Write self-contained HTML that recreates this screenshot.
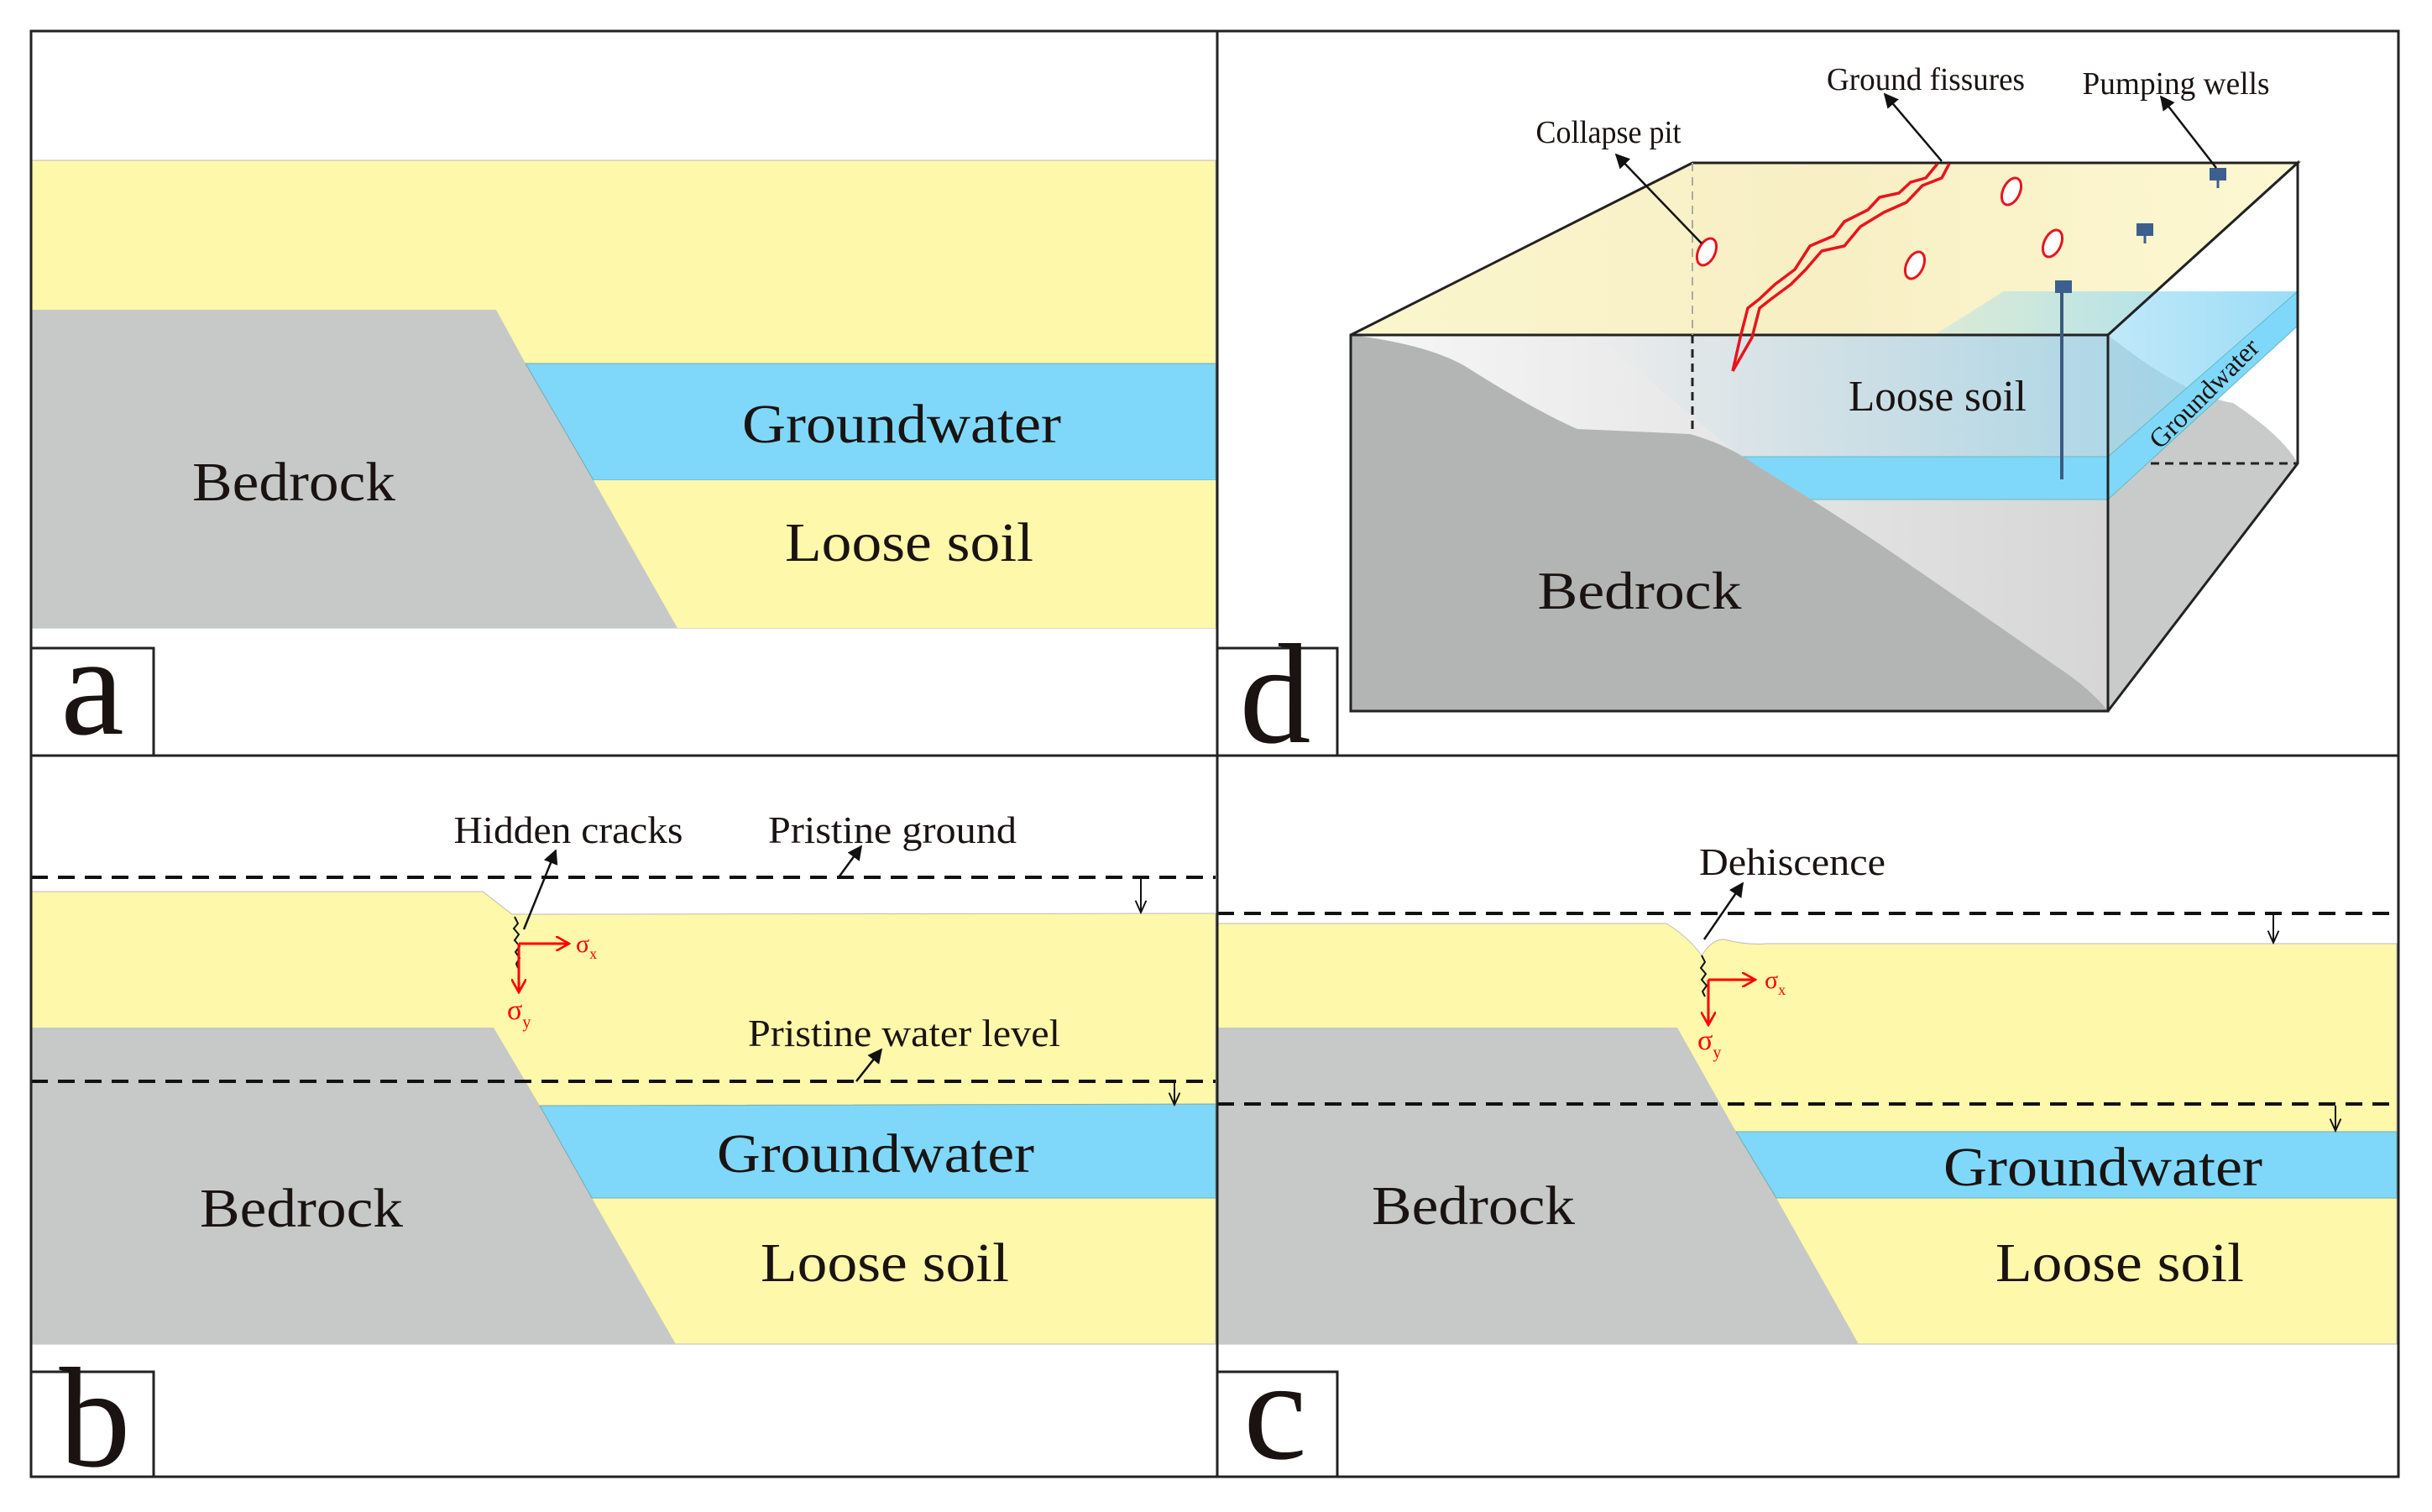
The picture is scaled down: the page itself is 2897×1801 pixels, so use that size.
<!DOCTYPE html>
<html><head><meta charset="utf-8"><style>html,body{margin:0;padding:0;background:#fff}svg{display:block}text{font-family:"Liberation Serif",serif;fill:#1a1311}</style></head>
<body>
<svg width="2897" height="1801" viewBox="0 0 2897 1801" xmlns="http://www.w3.org/2000/svg">
<defs>
<marker id="ah" viewBox="0 0 10 10" refX="9" refY="5" markerWidth="7" markerHeight="7" orient="auto-start-reverse"><path d="M0,0 L10,5 L0,10 z" fill="#111"/></marker>
<marker id="ahs" viewBox="0 0 10 10" refX="9" refY="5" markerWidth="8" markerHeight="8" orient="auto"><path d="M0,1 L9,5 L0,9" fill="none" stroke="#111" stroke-width="1.2"/></marker>
<marker id="ahr" viewBox="0 0 10 10" refX="9" refY="5" markerWidth="6" markerHeight="6" orient="auto"><path d="M0,0 L9,5 L0,10" fill="none" stroke="#f00" stroke-width="1.5"/></marker>
<linearGradient id="front" x1="0" y1="0" x2="1" y2="0"><stop offset="0" stop-color="#f7f7f7"/><stop offset="1" stop-color="#d6d6d6"/></linearGradient>
<linearGradient id="wt" x1="0" y1="0" x2="1" y2="0"><stop offset="0" stop-color="#9fdcf0" stop-opacity="0"/><stop offset="1" stop-color="#8fd8f6" stop-opacity="0.9"/></linearGradient>
<linearGradient id="topg" x1="0" y1="0" x2="1" y2="0"><stop offset="0" stop-color="#fbf6cd"/><stop offset="0.5" stop-color="#f8efc4"/><stop offset="1" stop-color="#fdf8d2"/></linearGradient>
</defs>

<!-- PANEL A -->
<rect x="37" y="191" width="1411" height="557" fill="#fef8aa" stroke="#bbb" stroke-width="1"/>
<polygon points="37,369 591,369 626,433 1448,433 1448,572 707,572 807,748 37,748" fill="#c6c9c8"/>
<polygon points="626,433 1448,433 1448,572 707,572" fill="#7fd8f9" stroke="#7aa" stroke-width="1"/>
<polygon points="707,572 1448,572 1448,748 807,748" fill="#fef8aa"/>
<text x="350" y="596" font-size="66" text-anchor="middle" textLength="242" lengthAdjust="spacingAndGlyphs">Bedrock</text>
<text x="1074" y="527" font-size="66" text-anchor="middle" textLength="380" lengthAdjust="spacingAndGlyphs">Groundwater</text>
<text x="1083" y="668" font-size="66" text-anchor="middle" textLength="296" lengthAdjust="spacingAndGlyphs">Loose soil</text>

<!-- PANEL B -->
<polygon points="37,1062 575,1062 610,1089 1448,1088 1448,1601 37,1601" fill="#fef8aa" stroke="#bbb" stroke-width="1"/>
<polygon points="37,1224 588,1224 643,1317 705,1427 805,1601 37,1601" fill="#c6c9c8"/>
<polygon points="643,1317 1448,1315 1448,1427 705,1427" fill="#7fd8f9" stroke="#7aa" stroke-width="1"/>
<line x1="37" y1="1045" x2="1448" y2="1045" stroke="#111" stroke-width="4" stroke-dasharray="20,12"/>
<line x1="37" y1="1288" x2="1448" y2="1288" stroke="#111" stroke-width="4" stroke-dasharray="20,12"/>
<text x="677" y="1004" font-size="46" text-anchor="middle" textLength="273" lengthAdjust="spacingAndGlyphs">Hidden cracks</text>
<text x="1063" y="1004" font-size="46" text-anchor="middle" textLength="296" lengthAdjust="spacingAndGlyphs">Pristine ground</text>
<text x="1077" y="1246" font-size="46" text-anchor="middle" textLength="372" lengthAdjust="spacingAndGlyphs">Pristine water level</text>
<line x1="624" y1="1107" x2="662" y2="1013" stroke="#111" stroke-width="2.5" marker-end="url(#ah)"/>
<line x1="999" y1="1045" x2="1026" y2="1008" stroke="#111" stroke-width="2.5" marker-end="url(#ah)"/>
<line x1="1020" y1="1288" x2="1050" y2="1250" stroke="#111" stroke-width="2.5" marker-end="url(#ah)"/>
<line x1="1359" y1="1047" x2="1359" y2="1087" stroke="#111" stroke-width="2" marker-end="url(#ahs)"/>
<line x1="1399" y1="1290" x2="1399" y2="1316" stroke="#111" stroke-width="2" marker-end="url(#ahs)"/>
<polyline points="613,1092 617,1100 612,1106 618,1113 613,1120 619,1127 614,1134 619,1141 615,1148 617,1153" fill="none" stroke="#111" stroke-width="2"/>
<line x1="618" y1="1124" x2="678" y2="1124" stroke="#f00" stroke-width="3" marker-end="url(#ahr)"/>
<line x1="618" y1="1124" x2="618" y2="1182" stroke="#f00" stroke-width="3" marker-end="url(#ahr)"/>
<text x="686" y="1134" font-size="30" style="fill:#f00">σ<tspan font-size="18" dy="8">x</tspan></text>
<text x="604" y="1214" font-size="34" style="fill:#f00">σ<tspan font-size="20" dy="10">y</tspan></text>
<text x="359" y="1461" font-size="66" text-anchor="middle" textLength="242" lengthAdjust="spacingAndGlyphs">Bedrock</text>
<text x="1043" y="1396" font-size="66" text-anchor="middle" textLength="378" lengthAdjust="spacingAndGlyphs">Groundwater</text>
<text x="1054" y="1526" font-size="66" text-anchor="middle" textLength="296" lengthAdjust="spacingAndGlyphs">Loose soil</text>

<!-- PANEL C -->
<path d="M1450,1100 L1985,1100 Q2010,1115 2027,1138 Q2040,1118 2054,1119 Q2080,1126 2105,1124 L2855,1124 L2855,1601 L1450,1601 Z" fill="#fef8aa" stroke="#bbb" stroke-width="1"/>
<polygon points="1450,1224 1998,1224 2068,1348 2116,1427 2214,1601 1450,1601" fill="#c6c9c8"/>
<polygon points="2068,1348 2855,1348 2855,1427 2116,1427" fill="#7fd8f9" stroke="#7aa" stroke-width="1"/>
<line x1="1450" y1="1088" x2="2855" y2="1088" stroke="#111" stroke-width="4" stroke-dasharray="20,12"/>
<line x1="1450" y1="1315" x2="2855" y2="1315" stroke="#111" stroke-width="4" stroke-dasharray="20,12"/>
<text x="2135" y="1042" font-size="46" text-anchor="middle" textLength="222" lengthAdjust="spacingAndGlyphs">Dehiscence</text>
<line x1="2030" y1="1119" x2="2076" y2="1052" stroke="#111" stroke-width="2.5" marker-end="url(#ah)"/>
<line x1="2708" y1="1090" x2="2708" y2="1123" stroke="#111" stroke-width="2" marker-end="url(#ahs)"/>
<line x1="2782" y1="1317" x2="2782" y2="1347" stroke="#111" stroke-width="2" marker-end="url(#ahs)"/>
<polyline points="2027,1138 2031,1146 2026,1153 2032,1160 2027,1167 2033,1174 2028,1181 2031,1187" fill="none" stroke="#111" stroke-width="2"/>
<line x1="2035" y1="1167" x2="2091" y2="1167" stroke="#f00" stroke-width="3" marker-end="url(#ahr)"/>
<line x1="2035" y1="1167" x2="2035" y2="1221" stroke="#f00" stroke-width="3" marker-end="url(#ahr)"/>
<text x="2102" y="1177" font-size="30" style="fill:#f00">σ<tspan font-size="18" dy="8">x</tspan></text>
<text x="2022" y="1250" font-size="34" style="fill:#f00">σ<tspan font-size="20" dy="10">y</tspan></text>
<text x="1755" y="1458" font-size="66" text-anchor="middle" textLength="242" lengthAdjust="spacingAndGlyphs">Bedrock</text>
<text x="2505" y="1412" font-size="66" text-anchor="middle" textLength="380" lengthAdjust="spacingAndGlyphs">Groundwater</text>
<text x="2525" y="1526" font-size="66" text-anchor="middle" textLength="296" lengthAdjust="spacingAndGlyphs">Loose soil</text>

<!-- PANEL D -->
<polygon points="1609,399 2016,194 2737,194 2511,399" fill="url(#topg)" stroke="#222" stroke-width="3"/>
<polygon points="2511,399 2737,194 2737,552 2511,847" fill="#fff"/>
<path d="M2511,399 Q2600,470 2660,480 Q2720,520 2737,552 L2511,847 Z" fill="#c9cbcb"/>
<polygon points="2387,347 2737,347 2511,544 2073,544" fill="url(#wt)"/>
<polygon points="2511,544 2737,347 2737,388 2511,595" fill="#7fd8f9" stroke="#6bb" stroke-width="1"/>
<rect x="1609" y="399" width="902" height="448" fill="url(#front)"/>
<polygon points="1900,399 2511,399 2511,544 2073,544" fill="url(#wt)" opacity="0.6"/>
<polygon points="2060,544 2511,544 2511,595 2130,595" fill="#7fd8f9" stroke="#6bb" stroke-width="1"/>
<path d="M1609,399 Q1700,410 1745,436 Q1830,490 1879,511 Q1950,514 2013,517 Q2060,530 2096,557 Q2200,620 2281,677 Q2380,745 2447,792 Q2490,820 2511,847 L1609,847 Z" fill="#b3b5b4"/>
<polygon points="1609,399 2511,399 2511,847 1609,847" fill="none" stroke="#222" stroke-width="3"/>
<polyline points="2511,399 2737,194 2737,552 2511,847" fill="none" stroke="#222" stroke-width="3"/>
<line x1="2016" y1="194" x2="2016" y2="399" stroke="#aaa" stroke-width="2" stroke-dasharray="10,7"/>
<line x1="2016" y1="399" x2="2016" y2="517" stroke="#222" stroke-width="3" stroke-dasharray="10,7"/>
<line x1="2562" y1="552" x2="2737" y2="552" stroke="#222" stroke-width="3" stroke-dasharray="10,7"/>
<line x1="2456" y1="342" x2="2456" y2="571" stroke="#3b5a80" stroke-width="4"/>
<rect x="2448" y="334" width="20" height="15" fill="#3d5f8f"/>
<rect x="2545" y="266" width="20" height="15" fill="#3d5f8f"/><line x1="2555" y1="281" x2="2555" y2="290" stroke="#3d5f8f" stroke-width="3"/>
<rect x="2632" y="200" width="20" height="15" fill="#3d5f8f"/><line x1="2642" y1="215" x2="2642" y2="224" stroke="#3d5f8f" stroke-width="3"/>
<polyline points="2308,195 2294,212 2276,217 2262,230 2239,235 2225,250 2197,264 2184,281 2156,293 2138,321 2114,339 2096,356 2082,367 2073,402 2064,442" fill="none" stroke="#e8141c" stroke-width="3.5" stroke-linejoin="round"/>
<polyline points="2322,195 2313,212 2290,221 2271,241 2244,253 2216,270 2197,293 2170,299 2151,321 2133,339 2110,356 2096,367 2087,402 2064,442" fill="none" stroke="#e8141c" stroke-width="3.5" stroke-linejoin="round"/>
<g fill="#fff" stroke="#e8141c" stroke-width="3">
<ellipse cx="2033" cy="300" rx="10" ry="17" transform="rotate(25 2033 300)"/>
<ellipse cx="2281" cy="316" rx="10" ry="17" transform="rotate(25 2281 316)"/>
<ellipse cx="2396" cy="228" rx="10" ry="17" transform="rotate(25 2396 228)"/>
<ellipse cx="2445" cy="290" rx="10" ry="17" transform="rotate(25 2445 290)"/>
</g>
<text x="1916" y="170" font-size="38" text-anchor="middle" textLength="173" lengthAdjust="spacingAndGlyphs">Collapse pit</text>
<text x="2294" y="107" font-size="38" text-anchor="middle" textLength="236" lengthAdjust="spacingAndGlyphs">Ground fissures</text>
<text x="2592" y="112" font-size="38" text-anchor="middle" textLength="223" lengthAdjust="spacingAndGlyphs">Pumping wells</text>
<line x1="2027" y1="290" x2="1925" y2="184" stroke="#111" stroke-width="2.5" marker-end="url(#ah)"/>
<line x1="2313" y1="192" x2="2245" y2="112" stroke="#111" stroke-width="2.5" marker-end="url(#ah)"/>
<line x1="2640" y1="200" x2="2574" y2="115" stroke="#111" stroke-width="2.5" marker-end="url(#ah)"/>
<text x="2308" y="489" font-size="52" text-anchor="middle" textLength="212" lengthAdjust="spacingAndGlyphs">Loose soil</text>
<text x="1953" y="725" font-size="64" text-anchor="middle" textLength="243" lengthAdjust="spacingAndGlyphs">Bedrock</text>
<text x="0" y="0" font-size="32" text-anchor="middle" textLength="170" lengthAdjust="spacingAndGlyphs" transform="translate(2633,476) rotate(-45)">Groundwater</text>

<!-- FRAMES -->
<rect x="37" y="37" width="2820" height="1722" fill="none" stroke="#222" stroke-width="3"/>
<line x1="1450" y1="37" x2="1450" y2="1759" stroke="#222" stroke-width="3"/>
<line x1="37" y1="900" x2="2857" y2="900" stroke="#222" stroke-width="3"/>
<rect x="37" y="772" width="146" height="128" fill="#fff" stroke="#222" stroke-width="3"/>
<rect x="1450" y="772" width="143" height="128" fill="#fff" stroke="#222" stroke-width="3"/>
<rect x="37" y="1634" width="146" height="125" fill="#fff" stroke="#222" stroke-width="3"/>
<rect x="1450" y="1634" width="143" height="125" fill="#fff" stroke="#222" stroke-width="3"/>
<text x="110" y="874" font-size="170" text-anchor="middle">a</text>
<text x="1519" y="884" font-size="170" text-anchor="middle">d</text>
<text x="113" y="1746" font-size="170" text-anchor="middle">b</text>
<text x="1519" y="1737" font-size="170" text-anchor="middle">c</text>
</svg>
</body></html>
